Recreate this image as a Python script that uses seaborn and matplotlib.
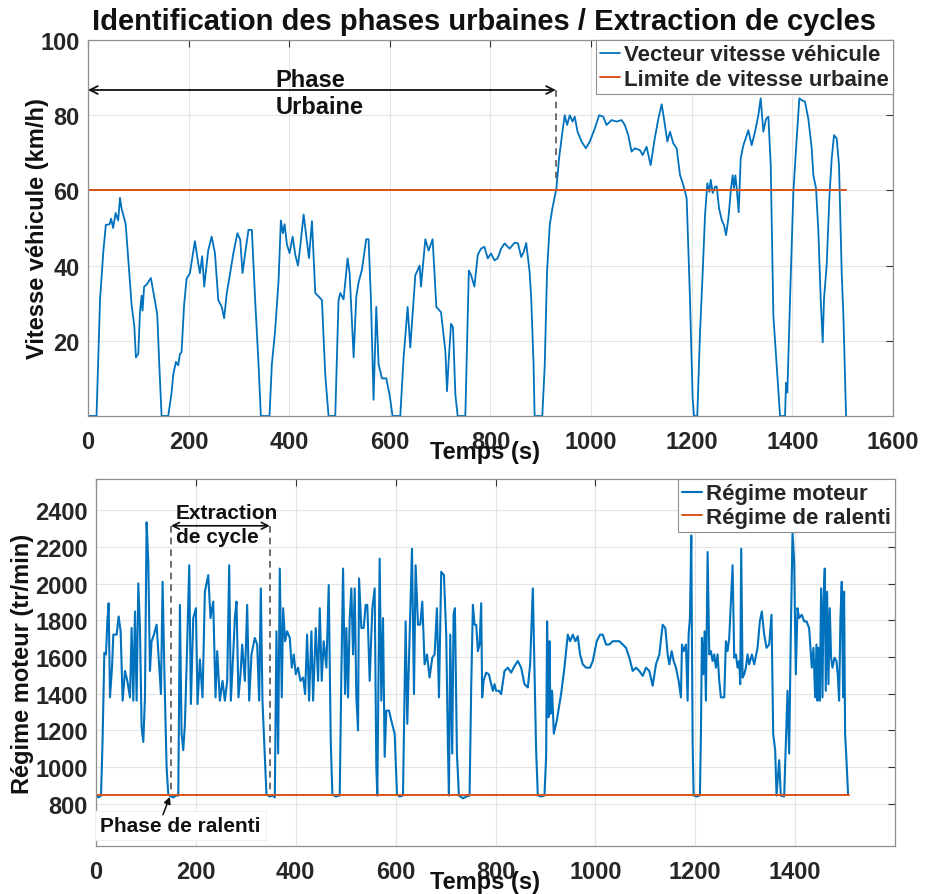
import matplotlib
matplotlib.use('Agg')
import matplotlib.pyplot as plt
import pandas as pd
import seaborn as sns

# ---------------- data ----------------
t_speed = [0, 17, 24, 27, 30.5, 35.5, 43, 46, 50, 55, 60, 63.6, 67, 70, 75, 80, 86.8, 92, 95.3, 100,
           103.3, 106.6, 108.5, 111.6, 117, 125, 130, 133, 137.7, 141.7, 146.3, 159.5, 166, 169.5, 174.8,
           179.4, 182.8, 186, 191, 196, 202.6, 212.5, 219, 222.5, 227, 231, 239, 245.8, 252.4, 259, 266,
           270.6, 275.9, 281, 289, 297, 302.6, 307.2, 312.5, 319, 325.7, 332.3, 339, 343.6, 360.8, 365.5,
           372, 378.8, 383.4, 387.4, 390.8, 395.4, 400.7, 406.7, 412, 417.3, 422, 428.6, 434, 439.2, 445.2,
           451.8, 458.4, 465, 471.6, 478.2, 491.5, 498, 501.5, 508, 516, 520, 528, 533.3, 538, 544.5, 553,
           557.7, 562.4, 567.6, 573, 577.6, 584.2, 592.9, 599.5, 605.4, 620.7, 627.4, 635.3, 640.6, 650.6,
           659.2, 661.9, 670.5, 677.1, 685, 692.4, 701.7, 710.3, 713.6, 716.9, 721.6, 725.5, 730.2, 734.8,
           750, 757, 761.6, 768, 774.7, 781, 788, 794.6, 801, 808, 814.6, 821, 828, 838, 848, 854.6, 861,
           866, 871, 877.8, 881, 885.7, 887.7, 903, 907.8, 912.4, 917.7, 923, 931, 936.3, 943, 947.6, 952.3,
           957.6, 963, 967.5, 973, 981, 989.5, 997.5, 1007.4, 1016, 1024, 1030.7, 1040.6, 1050.6, 1060.5,
           1067, 1073.8, 1080.4, 1087, 1097, 1102.4, 1110.3, 1118.3, 1127, 1133.6, 1140.2, 1144.9, 1151.5,
           1156.8, 1163.4, 1170, 1176.7, 1183.3, 1189.9, 1196.5, 1201.8, 1204.5, 1211, 1216.5, 1221.8,
           1226.4, 1231, 1235, 1237.7, 1241.7, 1246.3, 1249.6, 1254.3, 1259.6, 1264.2, 1268.2, 1272.8,
           1278.1, 1281.4, 1284, 1286.7, 1289.4, 1293.3, 1297.3, 1302.6, 1307.2, 1312.5, 1319.1, 1325.8,
           1332.4, 1337, 1342.3, 1347.6, 1352.3, 1357, 1362.2, 1368.8, 1375.5, 1385.4, 1387.4, 1390, 1395.4,
           1402, 1408.6, 1413.9, 1418.5, 1425, 1431.8, 1438.4, 1441.7, 1447, 1451.7, 1456.3, 1460.3, 1462.9,
           1468.2, 1473.5, 1478.2, 1482.8, 1488.1, 1492.7, 1498, 1501.4, 1506.7]
v_speed = [0, 0, 31, 37, 43.7, 50.8, 51, 52.5, 50, 54, 52, 58, 55, 53.6, 51, 41.9, 29.4, 24.1, 15.6, 16.5,
           27.6, 32, 28, 34.4, 35, 36.7, 33, 30.7, 27, 13.8, 0, 0, 6, 11, 14.4,
           13.5, 16.5, 17, 29.4, 36.5, 38, 46.5, 40.7, 38, 42.5, 34.4, 44, 47.7, 43.3, 30.8, 29,
           26, 32.7, 36.7, 43.3, 48.6, 46.9, 38, 43.3, 49.5, 49.5, 30.8, 13.8, 0, 0, 13.8,
           22.7, 36, 52, 48.6, 51, 45.6, 43.3, 47.7, 42.9, 40, 45.2, 53.6, 47.7, 42, 51.8,
           32.7, 31.8, 30.8, 11, 0, 0, 30.8, 32.7, 31, 41.9, 38, 15.6, 31.8, 35.6, 38.9, 47,
           47, 31, 4.3, 29, 13.8, 10, 10, 5.6, 0, 0, 15.6, 29, 18.2, 37.4,
           40, 34.4, 47, 44, 47, 29, 27.6, 17.3, 6.6, 14.7, 24.5, 23.6, 5.7, 0,
           0, 38.7, 37.4, 34.4, 42.8, 44.5, 45, 41.9, 43.2, 41.4, 42, 44.5, 45.9, 44.5, 46.1, 45.9, 42.3,
           43.6, 46, 38.3, 31.2, 13.4, 0, 0, 13.4, 38.3, 50.7, 55.2, 60.5, 68.5, 75.6, 80, 77.4,
           80, 78.3, 79.6, 75.6, 73, 71.2, 73, 76.5, 80, 79.6, 77.4, 78.7, 78.3, 78.7,
           77.4, 74.7, 70.3, 71.2, 70.7, 69.4, 71.6, 66.7, 74.2, 79, 82.9, 79, 73,
           75.6, 72.5, 71.2, 64.1, 61.4, 57.9, 31.2, 4.7, 0, 0, 22.3, 38.3,
           53.4, 61.9, 59.6, 62.8, 59.3, 61, 61, 55.2, 52.1, 50.7, 48.1, 52.5,
           60.6, 64, 60.6, 64, 60.6, 54.2, 68.5, 72, 73.8, 76, 72, 75.6,
           80, 84.5, 75.6, 79, 79.6, 66.7, 26.8, 13.4, 0, 0, 8.8, 6.2, 31.2,
           59.6, 73.8, 84.5, 84, 83.6, 79, 71.2, 64, 60.6, 49, 31.2, 19.6, 31.2,
           40.1, 57.9, 68.5, 74.7, 73.8, 66.7, 38.3, 26.8, 0]

t_rpm = [0, 5, 10, 13, 16.7, 20, 22.7, 25.3, 28, 32, 34.7, 41.3, 45.3, 49.3, 53.3, 58, 62.7, 68, 71.3,
         74.7, 78, 81.3, 84.7, 88, 91.3, 94.7, 98, 101.3, 104.7, 108, 111.3, 116, 121.3, 126.7, 130,
         133.3, 136.7, 141.3, 144.7, 150, 155, 160, 164.7, 168, 171.3, 174.7, 178, 181.3, 186.7, 190,
         194.7, 200, 203.3, 208, 213.3, 218, 224.7, 229.3, 234.7, 239.3, 242.7, 248, 253.3, 258, 262.7,
         266.7, 270, 274.7, 278, 281.3, 285.3, 289.3, 292.7, 298, 302.7, 306.7, 311.3, 318, 322.7, 326.7,
         330, 333.3, 338, 341.3, 348, 355, 358, 361.3, 364.7, 368, 372, 374.7, 378.7, 382.7, 388, 392,
         396, 400, 404.7, 409.3, 414.7, 418.7, 422.7, 426.7, 431.3, 434.7, 440, 444.7, 448, 452, 456,
         461.3, 466, 470, 473.3, 480, 488, 491.3, 494.7, 498.7, 501.3, 504.7, 508, 511.3, 514.7, 518,
         521.3, 524.7, 526.7, 531.3, 536, 540, 543.3, 548, 553.3, 558, 561.3, 563.3, 568, 571.3, 574.7,
         578, 581.3, 586.7, 591.3, 598, 602.7, 608, 614.7, 620, 623.3, 628, 632.7, 636.7, 640, 644.7,
         649.3, 653.3, 658, 662.7, 668, 673.3, 678, 682.7, 686.7, 691.3, 696.7, 701.3, 704.7, 706.7,
         709.3, 713.3, 716, 718.7, 722.7, 726.7, 735, 742, 748, 751.3, 754.7, 758, 761.3, 764.7, 768,
         771.3, 773.3, 776, 781.3, 786.7, 791.3, 794.7, 798, 801.3, 806.7, 811.3, 818, 824.7, 831.3, 838,
         844.7, 851.3, 858, 864.7, 869.3, 872.7, 874.7, 878, 881.3, 884.7, 891, 898, 901.3, 903.3, 906,
         908, 910, 913.3, 916.7, 922.7, 931.3, 938, 944.7, 949.3, 954.7, 960, 964.7, 969.3, 974.7,
         981.3, 989.3, 994.7, 1002.7, 1009.3, 1014.7, 1021.3, 1028, 1034.7, 1041.3, 1048, 1054.7,
         1061.3, 1068, 1074.7, 1081.3, 1088, 1094.7, 1101.3, 1108, 1114.7, 1121.3, 1128, 1134.7, 1140,
         1144.7, 1148, 1152.7, 1156.7, 1161.3, 1166.7, 1171.3, 1173.3, 1176.7, 1181.3, 1184.7, 1186.7,
         1189.3, 1192, 1194.7, 1196.7, 1203, 1209.3, 1211.3, 1213.3, 1216, 1218.7, 1221.3, 1224.7, 1228,
         1231.3, 1234.7, 1238, 1241.3, 1244.7, 1248, 1251.3, 1258, 1261.3, 1264.7, 1268, 1271.3, 1274.7,
         1278, 1281.3, 1284.7, 1288, 1290, 1292, 1294.7, 1298, 1301.3, 1304.7, 1308, 1313.3, 1318,
         1324.7, 1329.3, 1333.3, 1338, 1342.7, 1348, 1352.7, 1356, 1360, 1362.7, 1368, 1371.3, 1378,
         1384.7, 1388, 1391.3, 1394.7, 1398, 1401.3, 1404.7, 1408, 1413.3, 1418, 1422.7, 1428, 1433.3,
         1436.7, 1440, 1442.7, 1444.7, 1446.7, 1449.3, 1452, 1454.7, 1456.7, 1459.3, 1461.3, 1464,
         1466.7, 1469.3, 1472, 1474.7, 1478.7, 1482.7, 1485.3, 1488, 1490.7, 1493.3, 1496, 1498, 1500,
         1502, 1506]
v_rpm = [845, 835, 845, 1128, 1623, 1614, 1794, 1893, 1380, 1542, 1722, 1722, 1821, 1740, 1362, 1524, 1470,
         1380, 1758, 1362, 1848, 1362, 2001, 1758, 1218, 1137, 1380, 2334, 2118, 1524, 1686, 1722, 1776,
         1542, 1398, 2010, 1542, 1002, 850, 840, 835, 845, 845, 1884, 1182, 1092, 1236, 1542, 2100, 1344,
         1812, 1866, 1344, 1587, 1380, 1956, 2046, 1812, 1902, 1380, 1632, 1362, 1470, 1362, 1470,
         2100, 1362, 1614, 1812, 1902, 1380, 1506, 1668, 1470, 1884, 1362, 1614, 1704, 1668, 1362,
         1974, 1362, 1056, 850, 840, 845, 835, 1740, 1074, 2082, 1380, 1866, 1686, 1740, 1704, 1542,
         1614, 1506, 1542, 1470, 1488, 1398, 1722, 1362, 1740, 1362, 1758, 1470, 1866, 1470, 1686,
         1542, 1992, 1146, 850, 840, 845, 1506, 2082, 1398, 1758, 1380, 1812, 1974, 1614, 1974,
         1380, 1200, 2028, 1758, 1758, 1884, 1884, 1470, 1866, 1974, 1002, 845, 2136, 1362, 1812,
         1056, 1308, 1308, 1254, 1182, 850, 840, 845, 1794, 1236, 1722, 2190, 1398, 2100, 1776,
         1776, 1902, 1560, 1614, 1488, 1596, 1614, 1866, 1380, 2064, 2046, 1722, 1110, 845,
         1722, 1074, 1830, 1866, 1074, 845, 830, 840, 845, 1434, 1884, 1776, 1776, 1632, 1668,
         1893, 1380, 1470, 1515, 1506, 1452, 1416, 1452, 1416, 1416, 1398, 1524, 1542, 1515, 1551,
         1578, 1542, 1452, 1434, 1560, 1830, 1974, 1542, 1092, 845, 840, 845, 1056, 1794, 1272,
         1686, 1290, 1416, 1182, 1254, 1398, 1542, 1722, 1686, 1722, 1686, 1713, 1614, 1560,
         1542, 1542, 1578, 1686, 1722, 1722, 1668, 1668, 1686, 1686, 1686, 1668,
         1650, 1596, 1524, 1542, 1524, 1497, 1542, 1524, 1443, 1560, 1614, 1776, 1758,
         1614, 1560, 1632, 1578, 1542, 1470, 1380, 1668, 1632, 1668, 1362, 1722,
         1812, 2262, 1128, 845, 840, 845, 1182, 1704, 1506, 1740, 1362, 2172, 1614,
         1632, 1578, 1614, 1542, 1614, 1470, 1380, 1380, 1686, 1632, 1704, 1902, 2100,
         1596, 1614, 1542, 1578, 1452, 2190, 1488, 1506, 1542, 1614, 1560, 1614, 1560,
         1650, 1794, 1848, 1722, 1650, 1668, 1830, 1182, 1092, 845, 1038, 845, 840,
         1416, 1074, 1722, 2280, 2118, 1506, 1866, 1812, 1830, 1794, 1794, 1758, 1542,
         1650, 1380, 1668, 1362, 1650, 1362, 1974, 1380, 1902, 2082, 1416, 1956,
         1452, 1866, 1596, 1542, 1596, 1578, 1506, 1362, 1812, 2010, 1380, 1956, 1182,
         1080, 850]

speed_limit = 60
idle_rpm = 850
t_end = 1507

BLUE = '#0072BD'
ORANGE = '#D95319'

sns.set_theme(style='whitegrid')
plt.rcParams['font.family'] = ['Liberation Sans', 'DejaVu Sans']
plt.rcParams['font.weight'] = 'bold'
plt.rcParams['axes.unicode_minus'] = False

fig = plt.figure(figsize=(9.25, 8.95), dpi=100)
fig.patch.set_facecolor('white')
ax1 = fig.add_axes([0.0951, 0.5341, 0.8703, 0.4201])
ax2 = fig.add_axes([0.1038, 0.0536, 0.8638, 0.4101])

df_speed = pd.DataFrame({'t': t_speed, 'v': v_speed})
df_lim = pd.DataFrame({'t': [0, t_end], 'v': [speed_limit, speed_limit]})
df_rpm = pd.DataFrame({'t': t_rpm, 'v': v_rpm})
df_idle = pd.DataFrame({'t': [0, t_end], 'v': [idle_rpm, idle_rpm]})

sns.lineplot(data=df_speed, x='t', y='v', sort=False, estimator=None, color=BLUE, lw=1.3,
             label='Vecteur vitesse véhicule', ax=ax1)
sns.lineplot(data=df_lim, x='t', y='v', sort=False, estimator=None, color=ORANGE, lw=1.4,
             label='Limite de vitesse urbaine', ax=ax1)
sns.lineplot(data=df_rpm, x='t', y='v', sort=False, estimator=None, color=BLUE, lw=1.5,
             label='Régime moteur', ax=ax2)
sns.lineplot(data=df_idle, x='t', y='v', sort=False, estimator=None, color=ORANGE, lw=1.4,
             label='Régime de ralenti', ax=ax2)


def style(ax):
    ax.set_facecolor('white')
    ax.grid(True, color='#e4e4e4', lw=0.8)
    ax.set_axisbelow(True)
    for s in ax.spines.values():
        s.set_visible(True)
        s.set_color('#8f8f8f')
        s.set_linewidth(0.9)
    ax.tick_params(axis='both', direction='in', length=5, width=0.8, color='#333333',
                   top=True, right=True, labelsize=17, labelcolor='#262626')
    ax.tick_params(axis='x', pad=10)
    ax.tick_params(axis='y', pad=6)
    for lab in ax.get_xticklabels() + ax.get_yticklabels():
        lab.set_fontweight('bold')


# top panel
ax1.set_xlim(0, 1600)
ax1.set_ylim(0, 100)
ax1.set_xticks(range(0, 1601, 200))
ax1.set_yticks([20, 40, 60, 80, 100])
style(ax1)
ax1.set_xlabel('Temps (s)', fontsize=17, fontweight='bold', color='#111111')
ax1.set_ylabel('Vitesse véhicule (km/h)', fontsize=17, fontweight='bold', color='#111111')
ax1.xaxis.set_label_coords(0.493, -0.064)
ax1.yaxis.set_label_coords(-0.049, 0.5)
leg1 = ax1.legend(loc='upper right', fontsize=16, frameon=True, fancybox=False, borderaxespad=0,
                  handlelength=0.9, handletextpad=0.15, borderpad=0.2, labelspacing=0.15)
leg1.get_frame().set_edgecolor('#8f8f8f')
leg1.get_frame().set_linewidth(0.8)
leg1.get_frame().set_alpha(1)
for txt in leg1.get_texts():
    txt.set_fontweight('bold')

ax1.annotate('', xy=(0, 86.7), xytext=(930, 86.7),
             arrowprops=dict(arrowstyle='<->', color='#111111', lw=1.3, mutation_scale=14,
                             shrinkA=0, shrinkB=0))
ax1.plot([930, 930], [86.7, 62], ls=(0, (4, 3)), color='#555555', lw=1.2)
ax1.text(372, 89.6, 'Phase', fontsize=17, fontweight='bold', va='center', ha='left', color='#111111')
ax1.text(372, 82.2, 'Urbaine', fontsize=17, fontweight='bold', va='center', ha='left', color='#111111')

# bottom panel
ax2.set_xlim(0, 1600)
ax2.set_ylim(570, 2570)
ax2.set_xticks(range(0, 1401, 200))
ax2.set_yticks(range(800, 2401, 200))
style(ax2)
ax2.set_xlabel('Temps (s)', fontsize=17, fontweight='bold', color='#111111')
ax2.set_ylabel('Régime moteur (tr/min)', fontsize=17, fontweight='bold', color='#111111')
ax2.xaxis.set_label_coords(0.487, -0.064)
ax2.yaxis.set_label_coords(-0.078, 0.5)
leg2 = ax2.legend(loc='upper right', fontsize=16, frameon=True, fancybox=False, borderaxespad=0,
                  handlelength=0.9, handletextpad=0.15, borderpad=0.2, labelspacing=0.1)
leg2.get_frame().set_edgecolor('#8f8f8f')
leg2.get_frame().set_linewidth(0.8)
leg2.get_frame().set_alpha(1)
for txt in leg2.get_texts():
    txt.set_fontweight('bold')

ax2.annotate('', xy=(150, 2315), xytext=(348, 2315),
             arrowprops=dict(arrowstyle='<->', color='#111111', lw=1.2, mutation_scale=12,
                             shrinkA=0, shrinkB=0))
ax2.plot([150, 150], [2315, 860], ls=(0, (4, 3)), color='#555555', lw=1.2)
ax2.plot([348, 348], [2315, 860], ls=(0, (4, 3)), color='#555555', lw=1.2)
ax2.text(160, 2389, 'Extraction', fontsize=15, fontweight='bold', va='center', ha='left', color='#111111')
ax2.text(160, 2259, 'de cycle', fontsize=15, fontweight='bold', va='center', ha='left', color='#111111')
ax2.text(8, 681, 'Phase de ralenti', fontsize=15, fontweight='bold', va='center', ha='left', color='#111111',
         bbox=dict(boxstyle='square,pad=0.25', facecolor='white', edgecolor='#f0f0f0', lw=0.8))
ax2.annotate('', xy=(148, 838), xytext=(134, 741),
             arrowprops=dict(arrowstyle='-|>', color='#111111', lw=1.1, mutation_scale=10,
                             shrinkA=0, shrinkB=0))

fig.text(0.523, 1 - 22 / 895, 'Identification des phases urbaines / Extraction de cycles',
         fontsize=21, fontweight='bold', ha='center', va='center', color='#111111')

fig.savefig('out.png', dpi=100, facecolor='white')
